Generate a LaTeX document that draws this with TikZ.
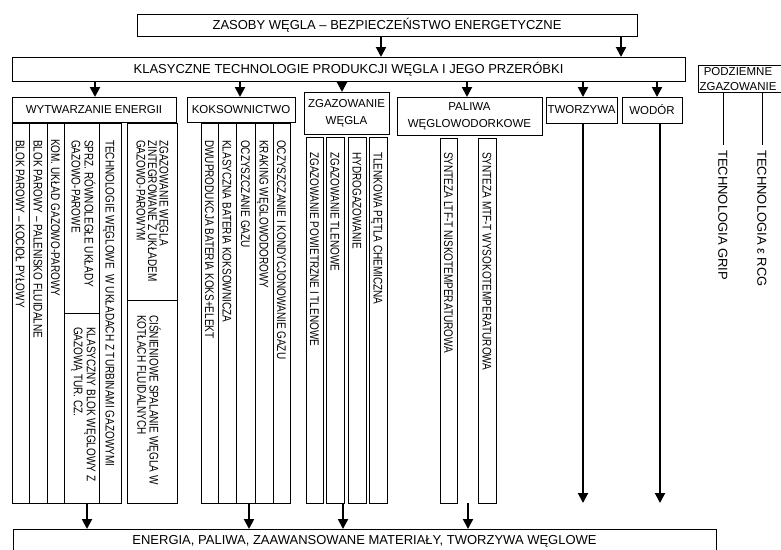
\documentclass[tikz,border=0pt]{standalone}
\usepackage{fontspec}
\setmainfont{Liberation Sans}
\newfontfamily\narrowf[FakeStretch=0.8]{Liberation Sans}
\usetikzlibrary{arrows.meta}
\tikzset{
  cell/.style={draw, line width=1pt, inner sep=0pt, outer sep=0pt},
  vtbase/.style={rotate=-90, inner sep=0pt, align=left},
  vt/.style={vtbase, font=\narrowf\fontsize{12.5}{13}\selectfont, text height=9pt, text depth=0pt},
  vtm/.style={vtbase, font=\narrowf\fontsize{12.5}{#1}\selectfont},
  vtbig/.style={vtbase, font=\fontsize{13}{15}\selectfont, text height=9.3pt, text depth=0pt},
  big/.style={font=\fontsize{13}{15}\selectfont, text height=9.3pt, text depth=0pt},
  mid/.style={font=\fontsize{11.5}{#1}\selectfont, align=center},
  arr/.style={line width=2pt, -{Triangle[width=10pt,length=10pt]}},
  thinline/.style={line width=1pt}
}
\newcommand\mybox[5]{\node[cell, anchor=north west, minimum width={(#4-#2)*1pt}, minimum height={(#5-#3)*1pt}] (#1) at (#2,#3) {};}
\newcommand\vtext[4]{\node[vt, anchor=west] (#1) at (#2,#3) {#4};}
\begin{document}
\begin{tikzpicture}[x=1pt, y=-1pt]
\useasboundingbox (0,0) rectangle (781,549);
\clip (0,0) rectangle (781,549);
\fill[white] (0,0) rectangle (781,549);

% top boxes
\node[cell, big, minimum width=500pt, minimum height=22pt] (zasoby) at (387,25) {ZASOBY WĘGLA – BEZPIECZEŃSTWO ENERGETYCZNE};
\node[cell, big, minimum width=673pt, minimum height=24pt] (klas) at (348.5,69) {KLASYCZNE TECHNOLOGIE PRODUKCJI WĘGLA I JEGO PRZERÓBKI};

% third row
\node[cell, mid=14, minimum width=164pt, minimum height=25pt] (wyt) at (94,109.5) {WYTWARZANIE ENERGII};
\node[cell, mid=14, minimum width=108pt, minimum height=25pt] (kok) at (241,109.5) {KOKSOWNICTWO};
\node[cell, mid=17, minimum width=85pt, minimum height=42pt] (zgw) at (346.5,113) {ZGAZOWANIE\\WĘGLA};
\node[cell, mid=17, minimum width=145pt, minimum height=38pt] (pal) at (469.5,116) {PALIWA\\WĘGLOWODORKOWE};
\node[cell, mid=14, minimum width=71pt, minimum height=26pt] (twz) at (581.5,110) {TWORZYWA};
\node[cell, mid=14, minimum width=60pt, minimum height=26pt] (wod) at (652,110) {WODÓR};
\mybox{pod}{698}{65}{790}{92}
\node[mid=15] (podt) at (738,79) {PODZIEMNE\\ZGAZOWANIE};

% arrow x positions
\coordinate (xa) at (381,0);
\coordinate (xb) at (621,0);
\coordinate (x1) at (95,0);
\coordinate (x2) at (240,0);
\coordinate (x3) at (342,0);
\coordinate (x4) at (467,0);
\coordinate (x5) at (583,0);
\coordinate (x6) at (657,0);

\draw[arr] (xa |- zasoby.south) -- (xa |- klas.north);
\draw[arr] (xb |- zasoby.south) -- (xb |- klas.north);
\draw[arr] (x1 |- klas.south) -- (x1 |- wyt.north);
\draw[arr] (x2 |- klas.south) -- (x2 |- kok.north);
\draw[arr] (x3 |- klas.south) -- (x3 |- zgw.north);
\draw[arr] (x4 |- klas.south) -- (x4 |- pal.north);
\draw[arr] (x5 |- klas.south) -- (x5 |- twz.north);
\draw[arr] (x6 |- klas.south) -- (x6 |- wod.north);

% columns: wytwarzanie energii
\mybox{w1}{12}{123}{29}{503}
\mybox{w2}{29}{123}{47}{503}
\mybox{w3}{47}{123}{64}{503}
\mybox{w4a}{64}{123}{99}{313}
\mybox{w4b}{64}{313}{99}{503}
\mybox{w5}{99}{123}{121}{503}
\mybox{w6a}{127}{123}{177}{300}
\mybox{w6b}{127}{300}{177}{503}
\vtext{tw1}{20.5}{140}{BLOK PAROWY – KOCIOŁ PYŁOWY}
\vtext{tw2}{38}{140}{BLOK PAROWY – PALENISKO FLUIDALNE}
\vtext{tw3}{55.5}{139}{KOM. UKŁAD GAZOWO-PAROWY}
\node[vtm=13, anchor=west] (tw4a) at (83.5,140) {SPRZ. RÓWNOLEGŁE UKŁADY\\GAZOWO-PAROWE};
\node[vtm=13, anchor=west] (tw4b) at (83.5,327) {KLASYCZNY BLOK WĘGLOWY Z\\GAZOWĄ TUR. CZ.};
\vtext{tw5}{110}{140}{TECHNOLOGIE WĘGLOWE\ \ W UKŁADACH Z TURBINAMI GAZOWYMI}
\node[vtm=11.5, anchor=west] (tw6a) at (152.5,140) {ZGAZOWANIE WĘGLA\\ZINTEGROWANE Z UKŁADEM\\GAZOWO-PAROWYM};
\node[vtm=9.5, anchor=west] (tw6b) at (149,315) {CIŚNIENIOWE SPALANIE WĘGLA W\\KOTŁACH FLUIDALNYCH};

% columns: koksownictwo
\mybox{k1}{201}{123}{218}{503}
\mybox{k2}{218}{123}{236}{503}
\mybox{k3}{236}{123}{255}{503}
\mybox{k4}{255}{123}{273}{503}
\mybox{k5}{273}{123}{290}{503}
\vtext{tk1}{209.5}{140}{DWUPRODUKCJA BATERIA KOKS+ELEKT}
\vtext{tk2}{227}{140}{KLASYCZNA BATERIA KOKSOWNICZA}
\vtext{tk3}{245.5}{140}{OCZYSZCZANIE GAZU}
\vtext{tk4}{264}{140}{KRAKING WĘGLOWODOROWY}
\vtext{tk5}{281.5}{140}{OCZYSZCZANIE I KONDYCJONOWANIE GAZU}

% columns: zgazowanie
\mybox{z1}{306}{137}{323}{503}
\mybox{z2}{326}{137}{344}{503}
\mybox{z3}{348}{137}{366}{503}
\mybox{z4}{369}{137}{387}{503}
\vtext{tz1}{314.5}{152}{ZGAZOWANIE POWIETRZNE I TLENOWE}
\vtext{tz2}{335}{152}{ZGAZOWANIE TLENOWE}
\vtext{tz3}{357}{152}{HYDROGAZOWANIE}
\vtext{tz4}{378}{152}{TLENKOWA PĘTLA CHEMICZNA}

% columns: paliwa
\mybox{p1}{440}{138}{457}{503}
\mybox{p2}{478}{138}{496}{503}
\vtext{tp1}{448.5}{152}{SYNTEZA LTF-T NISKOTEMPERATUROWA}
\vtext{tp2}{487}{152}{SYNTEZA MTF-T WYSOKOTEMPERATUROWA}

% podziemne zgazowanie
\coordinate (g1) at (723,145);
\coordinate (g2) at (762,145);
\draw[thinline] (g1 |- pod.south) -- (g1);
\draw[thinline] (g2 |- pod.south) -- (g2);
\node[vtbig, anchor=west] (tg1) at (723,150) {TECHNOLOGIA GRIP};
\node[vtbig, anchor=west] (tg2) at (762,150) {TECHNOLOGIA ε RCG};

% bottom box
\mybox{outb}{13}{529}{716}{570}
\node[big] (outt) at (364.5,539.5) {ENERGIA, PALIWA, ZAAWANSOWANE MATERIAŁY, TWORZYWA WĘGLOWE};

% long arrows
\coordinate (twend) at (583,503);
\coordinate (wdend) at (660,503);
\draw[arr] (twz.south -| twend) -- (twend);
\draw[arr] (wod.south -| wdend) -- (wdend);

% arrows to bottom box
\coordinate (b1) at (87,503);
\coordinate (b2) at (249,503);
\coordinate (b3) at (343,503);
\coordinate (b4) at (468,503);
\draw[arr] (b1) -- (b1 |- outb.north);
\draw[arr] (b2) -- (b2 |- outb.north);
\draw[arr] (b3) -- (b3 |- outb.north);
\draw[arr] (b4) -- (b4 |- outb.north);
\end{tikzpicture}
\end{document}
